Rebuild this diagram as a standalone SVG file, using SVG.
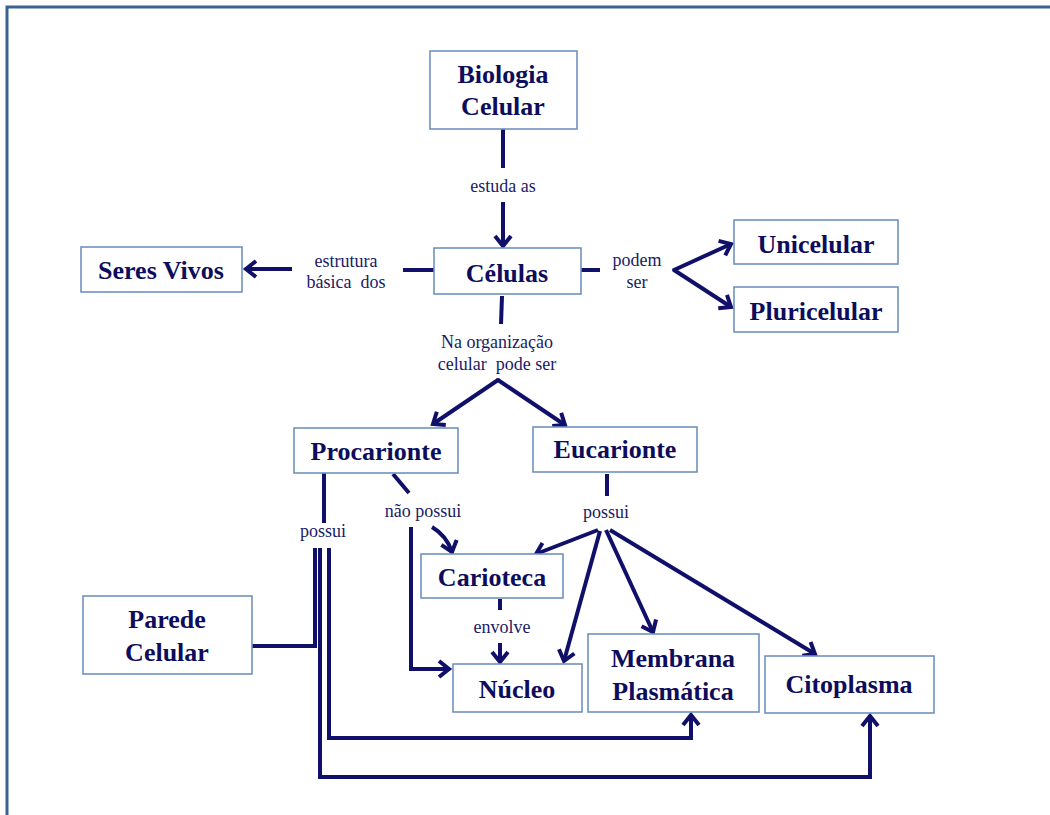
<svg xmlns="http://www.w3.org/2000/svg" width="1050" height="815" viewBox="0 0 1050 815" font-family="Liberation Serif, serif">
<defs>
<style>
.box{fill:#ffffff;stroke:#6f93c0;stroke-width:1.6}
.nt{font-weight:bold;font-size:26px;fill:#0d0d5c;text-anchor:middle}
.lb{font-size:18px;fill:#1a1a66;text-anchor:middle}
.c{fill:none;stroke:#10106a;stroke-width:4;stroke-linejoin:miter;stroke-linecap:butt}
.a{marker-end:url(#ah)}
</style>
<marker id="ah" markerUnits="userSpaceOnUse" viewBox="-14 -10 18 20" markerWidth="18" markerHeight="20" refX="0" refY="0" orient="auto" overflow="visible">
<path d="M-10,-8 L0,0 L-10,8" fill="none" stroke="#10106a" stroke-width="4" stroke-linejoin="miter"/>
</marker>
</defs>
<rect x="0" y="0" width="1050" height="815" fill="#ffffff"/>
<rect x="7" y="7" width="1100" height="900" fill="none" stroke="#3a6190" stroke-width="3"/>

<g id="connectors">
<line class="c" x1="503" y1="129" x2="503" y2="168"/>
<line class="c a" x1="503" y1="202" x2="503" y2="246"/>
<line class="c" x1="434" y1="270" x2="403" y2="270"/>
<line class="c a" x1="292" y1="269" x2="246" y2="269"/>
<line class="c" x1="581" y1="270" x2="600" y2="270"/>
<line class="c a" x1="674" y1="270" x2="731" y2="244"/>
<line class="c a" x1="674" y1="270" x2="731" y2="307"/>
<circle cx="674" cy="270" r="2" fill="#10106a"/>
<line class="c" x1="502" y1="296" x2="501" y2="324"/>
<line class="c a" x1="498" y1="380" x2="433" y2="424"/>
<line class="c a" x1="498" y1="380" x2="565" y2="425"/>
<circle cx="498" cy="380" r="2" fill="#10106a"/>
<line class="c" x1="324" y1="473" x2="324" y2="523"/>
<path class="c" d="M315,548 L315,646 L252,646"/>
<path class="c a" d="M320,548 L320,777 L870,777 L870,716"/>
<path class="c a" d="M329,548 L329,738 L691,738 L691,715"/>
<line class="c" x1="393" y1="474" x2="409" y2="493"/>
<path class="c a" d="M432,527 Q447,536 452,552"/>
<path class="c a" d="M411,527 L411,669 L449,669"/>
<line class="c" x1="607" y1="474" x2="607" y2="496"/>
<line class="c a" x1="598" y1="530" x2="536" y2="554"/>
<line class="c a" x1="600" y1="531" x2="564" y2="661"/>
<line class="c a" x1="606" y1="530" x2="653" y2="632"/>
<line class="c a" x1="610" y1="530" x2="815" y2="654"/>
<line class="c" x1="500" y1="599" x2="500" y2="610"/>
<line class="c a" x1="500" y1="643" x2="500" y2="662"/>
</g>

<g id="labels" font-family="Liberation Serif, serif">
<text class="lb" x="503" y="192">estuda as</text>
<text class="lb" x="346" y="267">estrutura</text>
<text class="lb" x="346" y="288" xml:space="preserve">básica  dos</text>
<text class="lb" x="637" y="266">podem</text>
<text class="lb" x="637" y="288">ser</text>
<text class="lb" x="497" y="348">Na organização</text>
<text class="lb" x="497" y="370" xml:space="preserve">celular  pode ser</text>
<text class="lb" x="323" y="537">possui</text>
<text class="lb" x="423" y="517">não possui</text>
<text class="lb" x="606" y="518">possui</text>
<text class="lb" x="502" y="633">envolve</text>
</g>

<g id="nodes" font-family="Liberation Serif, serif">
<g id="biologia-celular">
<rect class="box" x="430" y="51" width="147" height="78"/>
<text class="nt" x="503" y="83">Biologia</text>
<text class="nt" x="503" y="115">Celular</text>
</g>
<g id="celulas">
<rect class="box" x="434" y="248" width="147" height="46"/>
<text class="nt" x="507" y="282">Células</text>
</g>
<g id="seres-vivos">
<rect class="box" x="81" y="247" width="161" height="45"/>
<text class="nt" x="161" y="279">Seres Vivos</text>
</g>
<g id="unicelular">
<rect class="box" x="734" y="220" width="164" height="44"/>
<text class="nt" x="816" y="253">Unicelular</text>
</g>
<g id="pluricelular">
<rect class="box" x="734" y="287" width="164" height="45"/>
<text class="nt" x="816" y="320">Pluricelular</text>
</g>
<g id="procarionte">
<rect class="box" x="294" y="428" width="164" height="45"/>
<text class="nt" x="376" y="460">Procarionte</text>
</g>
<g id="eucarionte">
<rect class="box" x="533" y="427" width="164" height="45"/>
<text class="nt" x="615" y="458">Eucarionte</text>
</g>
<g id="carioteca">
<rect class="box" x="421" y="554" width="142" height="44"/>
<text class="nt" x="492" y="586">Carioteca</text>
</g>
<g id="parede-celular">
<rect class="box" x="83" y="596" width="169" height="78"/>
<text class="nt" x="167" y="628">Parede</text>
<text class="nt" x="167" y="661">Celular</text>
</g>
<g id="nucleo">
<rect class="box" x="453" y="664" width="129" height="48"/>
<text class="nt" x="517" y="698">Núcleo</text>
</g>
<g id="membrana-plasmatica">
<rect class="box" x="588" y="634" width="171" height="78"/>
<text class="nt" x="673" y="667">Membrana</text>
<text class="nt" x="673" y="700">Plasmática</text>
</g>
<g id="citoplasma">
<rect class="box" x="765" y="656" width="169" height="57"/>
<text class="nt" x="849" y="693">Citoplasma</text>
</g>
</g>
</svg>
